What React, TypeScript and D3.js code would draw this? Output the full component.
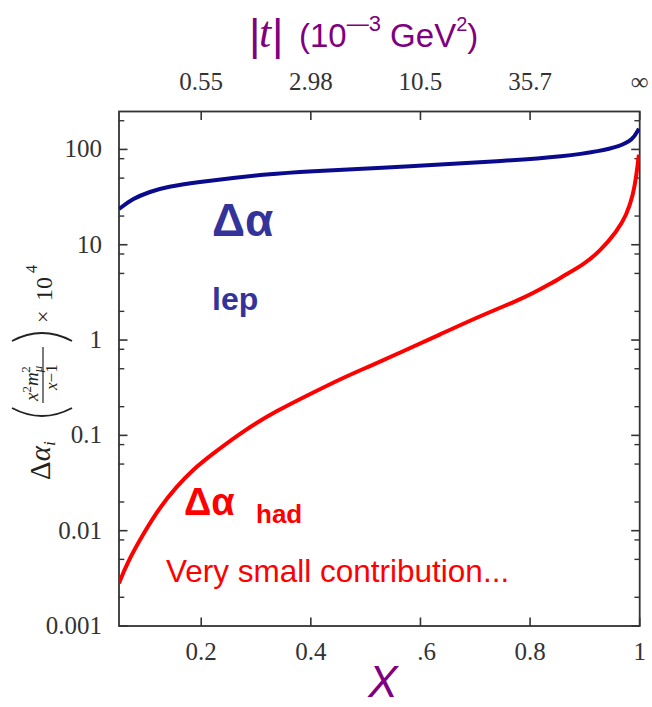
import * as d3 from 'd3';

// x = Feynman parameter, values = Δα_i(t(x)) × 10^4
const lepX = [0.05, 0.0755, 0.1065, 0.137, 0.198, 0.258, 0.319, 0.38, 0.59, 0.745, 0.866, 0.927, 0.963, 0.987, 0.9985];
const lepV = [23.7, 30.6, 36.0, 40.6, 45.7, 50.4, 54.6, 58.2, 67, 75, 85, 96, 108, 125, 165];

const hadX = [0.05, 0.064, 0.0943, 0.1248, 0.155, 0.1855, 0.216, 0.277, 0.3376, 0.398, 0.459, 0.508, 0.562, 0.635, 0.708, 0.781, 0.805, 0.836, 0.866, 0.897, 0.927, 0.958, 0.976, 0.988, 0.994, 0.9985];
const hadV = [0.0028, 0.0045, 0.0093, 0.0177, 0.029, 0.044, 0.061, 0.112, 0.181, 0.27, 0.403, 0.533, 0.735, 1.14, 1.78, 2.65, 3.1, 3.85, 4.9, 6.17, 8.49, 13.7, 20.5, 33.2, 53.7, 88];

const xTicks = [0.2, 0.4, 0.6, 0.8, 1];
const xTickLabels = ['0.2', '0.4', '0.6', '0.8', '1'];
const tTickLabels = ['0.55', '2.98', '10.5', '35.7', '\u221E'];
const yTicks = [0.001, 0.01, 0.1, 1, 10, 100];
const yTickLabels = ['0.001', '0.01', '0.1', '1', '10', '100'];
const yMinor = [2, 5, 8];

const W = 652, H = 707;
const left = 119, right = 639.7, top = 111.5, bottom = 626;
const serif = '"Liberation Serif", serif';
const sans = '"Liberation Sans", Arial, sans-serif';
const purple = '#800080';

export default function App() {
  const x = d3.scaleLinear().domain([0.05, 1]).range([left, right]);
  const y = d3.scaleLog().domain([0.001, 250]).range([bottom, top]);

  const line = d3.line<[number, number]>()
    .x(d => x(d[0]))
    .y(d => y(d[1]))
    .curve(d3.curveBasis);

  const lep = line(lepX.map((v, i) => [v, lepV[i]] as [number, number]));
  const had = line(hadX.map((v, i) => [v, hadV[i]] as [number, number]));

  const minor: number[] = [];
  yTicks.forEach(t => yMinor.forEach(m => {
    const v = t * m;
    if (v < 250) minor.push(v);
  }));

  return (
    <svg width={W} height={H} style={{ position: 'absolute', left: 0, top: 0, background: '#fff' }}>
      <defs>
        <clipPath id="plot">
          <rect x={left} y={top - 20} width={right - left} height={bottom - top + 20} />
        </clipPath>
      </defs>

      {/* title */}
      <g fill={purple}>
        <text x={249} y={50} fontFamily={sans} fontSize={44}>|</text>
        <text x={259} y={47} fontFamily={serif} fontStyle="italic" fontSize={44}>t</text>
        <text x={272} y={50} fontFamily={sans} fontSize={44}>|</text>
        <text x={299} y={47} fontFamily={sans} fontSize={33}>
          (10<tspan dy={-16} fontSize={22}>{'\u2014'}3</tspan>
          <tspan dy={16}> GeV</tspan><tspan dy={-16} fontSize={20}>2</tspan><tspan dy={16}>)</tspan>
        </text>
      </g>

      {/* frame */}
      <rect x={left} y={top} width={right - left} height={bottom - top} fill="none" stroke="#333" strokeWidth={1.8} />

      {/* x ticks top & bottom */}
      {xTicks.map((t, i) => (
        <g key={'xt' + i} stroke="#333" strokeWidth={1.6}>
          <line x1={x(t)} x2={x(t)} y1={bottom} y2={bottom - 8.5} />
          <line x1={x(t)} x2={x(t)} y1={top} y2={top + 8.5} />
        </g>
      ))}
      {xTicks.map((t, i) => (
        <text key={'xl' + i} x={x(t)} y={660} textAnchor="middle" fontFamily={serif} fontSize={25} fill="#333">
          {xTickLabels[i] === '0.6' ? <><tspan fillOpacity={0}>0</tspan>.6</> : xTickLabels[i]}
        </text>
      ))}
      {xTicks.map((t, i) => (
        <text key={'tl' + i} x={x(t)} y={90} textAnchor="middle" fontFamily={serif} fontSize={25} fill="#333">
          {tTickLabels[i]}
        </text>
      ))}

      {/* y ticks */}
      {yTicks.map((t, i) => (
        <g key={'yt' + i} stroke="#333" strokeWidth={1.6}>
          <line x1={left} x2={left + 8.5} y1={y(t)} y2={y(t)} />
          <line x1={right} x2={right - 8.5} y1={y(t)} y2={y(t)} />
        </g>
      ))}
      {minor.map((t, i) => (
        <g key={'ym' + i} stroke="#333" strokeWidth={1.4}>
          <line x1={left} x2={left + 5.3} y1={y(t)} y2={y(t)} />
          <line x1={right} x2={right - 5.3} y1={y(t)} y2={y(t)} />
        </g>
      ))}
      {yTicks.map((t, i) => (
        <text key={'yl' + i} x={102} y={y(t) + 8} textAnchor="end" fontFamily={serif} fontSize={25} fill="#333">
          {yTickLabels[i]}
        </text>
      ))}

      {/* y axis label */}
      <g transform="translate(50,480) rotate(-90)" fill="#222" fontFamily={serif}>
        <text x={0} y={0} fontSize={29}>
          Δ<tspan fontStyle="italic">α</tspan><tspan fontStyle="italic" fontSize={17} dy={5}>i</tspan>
        </text>
        <path d="M 72 -38 Q 56 -8 72 22" fill="none" stroke="#222" strokeWidth={1.8} />
        <text x={79} y={-12} fontSize={19} fontStyle="italic">
          x<tspan dy={-7} fontSize={13} fontStyle="normal">2</tspan><tspan dy={7}>m</tspan><tspan dy={4} fontSize={13}>μ</tspan><tspan dy={-12} dx={-7} fontSize={13} fontStyle="normal">2</tspan>
        </text>
        <line x1={77} x2={133} y1={-7} y2={-7} stroke="#222" strokeWidth={1.2} />
        <text x={90} y={7} fontSize={17} fontStyle="italic">
          x<tspan fontStyle="normal">−1</tspan>
        </text>
        <path d="M 139 -38 Q 155 -8 139 22" fill="none" stroke="#222" strokeWidth={1.8} />
        <text x={157} y={0} fontSize={22}>×</text>
        <text x={179} y={2} fontSize={24}>10</text>
        <text x={207} y={-13} fontSize={16}>4</text>
      </g>

      {/* curves */}
      <g clipPath="url(#plot)" fill="none" strokeLinejoin="round">
        <path d={lep ?? ''} stroke="#0a0a8c" strokeWidth={4} />
        <path d={had ?? ''} stroke="#ff0000" strokeWidth={4} />
      </g>

      {/* annotations */}
      <g fontFamily={sans} fontWeight="bold" fill="#333399">
        <text x={212} y={236} fontSize={46}>Δα</text>
        <text x={212} y={310} fontSize={32}>lep</text>
      </g>
      <g fontFamily={sans} fill="#ff0000">
        <text x={184} y={515} fontSize={38} fontWeight="bold">Δα</text>
        <text x={256} y={523} fontSize={26} fontWeight="bold">had</text>
        <text x={166} y={582} fontSize={31.5}>Very small contribution...</text>
      </g>

      {/* axis name */}
      <text x={383} y={697} textAnchor="middle" fontFamily={sans} fontStyle="italic" fontSize={44} fill={purple}>X</text>
    </svg>
  );
}
